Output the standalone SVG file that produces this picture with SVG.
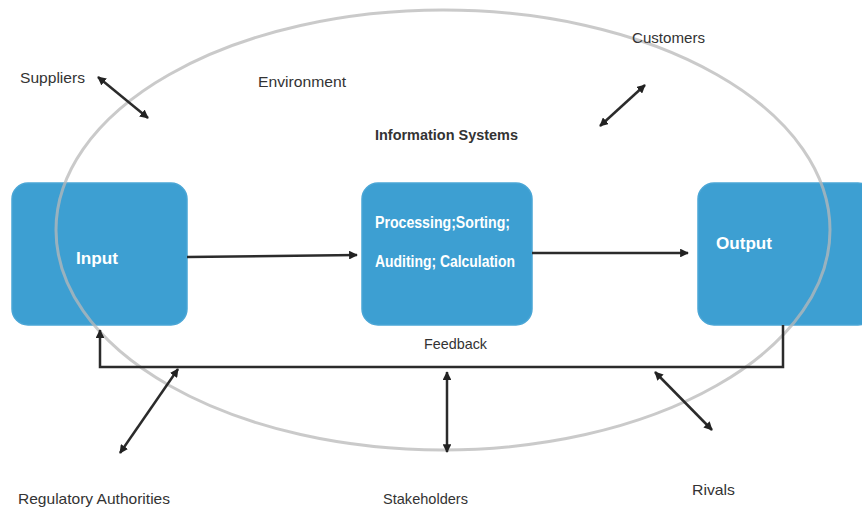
<svg xmlns="http://www.w3.org/2000/svg" width="862" height="510" viewBox="0 0 862 510">
<defs>
<style>
.lbl{font-family:"Liberation Sans",Arial,sans-serif;font-size:15px;fill:#333}
.box{fill:#3d9fd2;stroke:#4aa6d6;stroke-width:1.5}
.bt{font-family:"Liberation Sans",Arial,sans-serif;font-size:16px;fill:#fff;font-weight:bold}
.ln{stroke:#2b2b2b;stroke-width:2.5;fill:none}
</style>
<marker id="ah" viewBox="0 0 10 10" refX="9" refY="5" markerWidth="3.5" markerHeight="3.5" orient="auto-start-reverse">
<path d="M0,0 L10,5 L0,10 z" fill="#222"/>
</marker>
</defs>
<rect width="862" height="510" fill="#fff"/>
<g id="input"><rect class="box" x="12" y="183" width="175" height="142" rx="16"/><text class="bt" x="97" y="264" text-anchor="middle" textLength="42" lengthAdjust="spacingAndGlyphs">Input</text></g>
<g id="processing"><rect class="box" x="362" y="183" width="170" height="142" rx="16"/><text class="bt" x="375" y="228" textLength="135" lengthAdjust="spacingAndGlyphs">Processing;Sorting;</text><text class="bt" x="375" y="267" textLength="140" lengthAdjust="spacingAndGlyphs">Auditing; Calculation</text></g>
<g id="output"><rect class="box" x="698" y="183" width="176" height="142" rx="16"/><text class="bt" x="716" y="249" textLength="56" lengthAdjust="spacingAndGlyphs">Output</text></g>
<ellipse id="environment" cx="443" cy="230" rx="387" ry="220" fill="none" stroke="#b8b8b8" stroke-opacity="0.75" stroke-width="3"/>
<g id="connectors">
<path class="ln" d="M187,257 L357,255" stroke-width="4" marker-end="url(#ah)"/>
<path class="ln" d="M532,253 L688,253" marker-end="url(#ah)"/>
<path class="ln" d="M783,325 L783,367 L100,367 L100,330" stroke-width="4" stroke="#4a4a4a" marker-end="url(#ah)"/>
<path class="ln" d="M98,77 L148,118" marker-start="url(#ah)" marker-end="url(#ah)"/>
<path class="ln" d="M645,85 L600,126" marker-start="url(#ah)" marker-end="url(#ah)"/>
<path class="ln" d="M178,369 L120,453" marker-start="url(#ah)" marker-end="url(#ah)"/>
<path class="ln" d="M447,372 L447,452" marker-start="url(#ah)" marker-end="url(#ah)"/>
<path class="ln" d="M655,372 L712,430" marker-start="url(#ah)" marker-end="url(#ah)"/>
</g>
<g id="labels">
<text class="lbl" x="20" y="83" textLength="65" lengthAdjust="spacingAndGlyphs">Suppliers</text>
<text class="lbl" x="258" y="87" textLength="88" lengthAdjust="spacingAndGlyphs">Environment</text>
<text class="lbl" x="375" y="140" font-weight="bold" textLength="143" lengthAdjust="spacingAndGlyphs">Information Systems</text>
<text class="lbl" x="632" y="43" textLength="73" lengthAdjust="spacingAndGlyphs">Customers</text>
<text class="lbl" x="424" y="349" textLength="63" lengthAdjust="spacingAndGlyphs">Feedback</text>
<text class="lbl" x="18" y="504" textLength="152" lengthAdjust="spacingAndGlyphs">Regulatory Authorities</text>
<text class="lbl" x="383" y="504" textLength="85" lengthAdjust="spacingAndGlyphs">Stakeholders</text>
<text class="lbl" x="692" y="495" textLength="43" lengthAdjust="spacingAndGlyphs">Rivals</text>
</g>
</svg>
